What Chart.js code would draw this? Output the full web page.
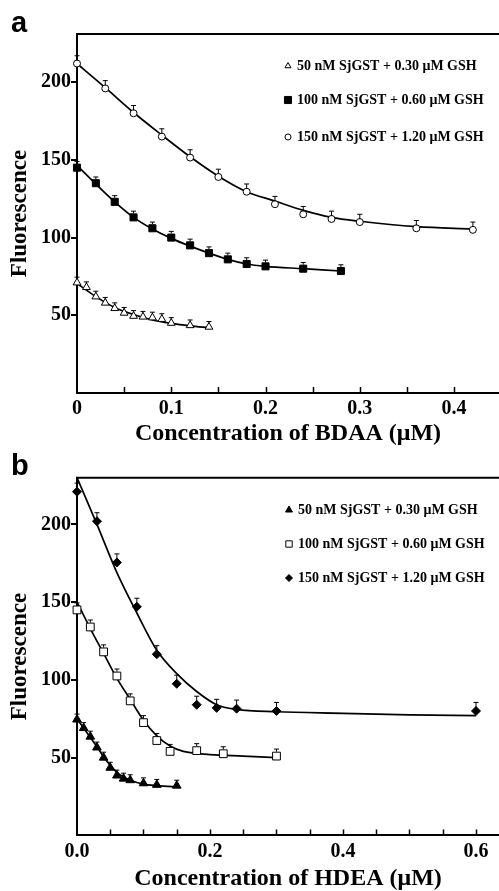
<!DOCTYPE html>
<html><head><meta charset="utf-8">
<script src="https://cdn.jsdelivr.net/npm/chart.js@4.4.0/dist/chart.umd.min.js"></script>
<style>
html,body{margin:0;padding:0;background:#fff;}
body{width:499px;height:891px;position:relative;overflow:hidden;}
canvas{position:absolute;left:0;}
#ca{top:0;} #cb{top:445px;}
</style></head><body>
<canvas id="ca" width="499" height="446"></canvas>
<canvas id="cb" width="499" height="446"></canvas>
<script>
// ---------- data ----------
const seriesLabels = ['50 nM SjGST + 0.30 \u03bcM GSH', '100 nM SjGST + 0.60 \u03bcM GSH', '150 nM SjGST + 1.20 \u03bcM GSH'];
const yTicks = [50, 100, 150, 200];

// Panel a: BDAA
const aTriX = [0, 0.01, 0.02, 0.03, 0.04, 0.05, 0.06, 0.07, 0.08, 0.09, 0.10, 0.12, 0.14];
const aTriY = [71, 68, 62, 58, 54.5, 51.5, 49.5, 49, 48.5, 47.5, 45, 43.5, 42.5];
const aTriErr = [3.5, 3.5, 3.5, 3.5, 3.5, 3.5, 3.5, 3.5, 3.5, 3.5, 3.5, 3.5, 3.5];
const aSqX = [0, 0.02, 0.04, 0.06, 0.08, 0.10, 0.12, 0.14, 0.16, 0.18, 0.20, 0.24, 0.28];
const aSqY = [145, 135, 123, 113, 106, 100, 95, 90, 86, 83, 81.5, 80, 78.5];
const aSqErr = [4, 4, 4, 4, 4, 4, 4, 4, 4, 4, 4, 4, 4];
const aCirX = [0, 0.03, 0.06, 0.09, 0.12, 0.15, 0.18, 0.21, 0.24, 0.27, 0.30, 0.36, 0.42];
const aCirY = [212, 196, 180, 165, 151.5, 139, 129.5, 121.5, 115, 112, 110, 106, 105];
const aCirErr = [5, 5, 5, 5, 5, 5, 5, 5, 5, 5, 5, 5, 5];
const aTriFitX = [0, 0.02, 0.04, 0.06, 0.08, 0.10, 0.12, 0.14];
const aTriFitY = [70.5, 62, 55, 50.5, 47, 44.8, 43.2, 42];
const aSqFitX = [0, 0.02, 0.04, 0.06, 0.08, 0.10, 0.12, 0.14, 0.16, 0.18, 0.20, 0.24, 0.28];
const aSqFitY = [146.5, 134.5, 123, 113, 105.5, 99.5, 94.5, 90, 86, 83, 81.5, 80, 78.5];
const aCirFitX = [0, 0.03, 0.06, 0.09, 0.12, 0.15, 0.18, 0.21, 0.24, 0.27, 0.30, 0.36, 0.42];
const aCirFitY = [212, 196.5, 180.5, 166, 152, 139.5, 129.5, 123.5, 117.5, 113, 110.5, 107, 105.5];
const aXTicks = [0, 0.1, 0.2, 0.3, 0.4];
const aXLabels = ['0', '0.1', '0.2', '0.3', '0.4'];
const aMinorTicks = [0.05, 0.1, 0.15, 0.2, 0.25, 0.3, 0.35, 0.4];

// Panel b: HDEA
const bTriX = [0, 0.01, 0.02, 0.03, 0.04, 0.05, 0.06, 0.07, 0.08, 0.10, 0.12, 0.15];
const bTriY = [74.5, 69, 63.5, 56.5, 50, 43.5, 38.5, 36.5, 35.5, 33.5, 32.5, 32];
const bTriErr = [3.5, 3.5, 3.5, 3.5, 3.5, 3.5, 3.5, 3.5, 3.5, 3.5, 3.5, 3.5];
const bSqX = [0, 0.02, 0.04, 0.06, 0.08, 0.10, 0.12, 0.14, 0.18, 0.22, 0.30];
const bSqY = [145, 134, 118, 102.5, 86.5, 72.5, 61, 54, 54.5, 52.5, 51];
const bSqErr = [4.5, 4.5, 4.5, 4.5, 4.5, 4.5, 4.5, 4.5, 4.5, 4.5, 4.5];
const bDiaX = [0, 0.03, 0.06, 0.09, 0.12, 0.15, 0.18, 0.21, 0.24, 0.30, 0.60];
const bDiaY = [221, 202, 175.5, 147, 116.5, 97.5, 84, 82, 81.5, 80, 80];
const bDiaErr = [5.5, 5.5, 5.5, 5.5, 5.5, 5.5, 5.5, 5.5, 5.5, 5.5, 5.5];
const bTriFitX = [0, 0.01, 0.02, 0.03, 0.04, 0.05, 0.06, 0.07, 0.08, 0.10, 0.12, 0.155];
const bTriFitY = [75, 69, 63, 57, 50.5, 45, 40.5, 37.5, 35.5, 33, 32, 31];
const bSqFitX = [0, 0.02, 0.04, 0.06, 0.08, 0.10, 0.12, 0.14, 0.16, 0.20, 0.25, 0.30];
const bSqFitY = [150, 133, 117, 101, 87.5, 74, 64, 57.5, 54, 52, 51, 50];
const bDiaFitX = [0, 0.03, 0.06, 0.09, 0.12, 0.15, 0.18, 0.21, 0.24, 0.30, 0.40, 0.50, 0.60];
const bDiaFitY = [230, 200, 169, 143, 119, 104, 92.5, 84, 81, 79.5, 78.5, 77.5, 77];
const bXTicks = [0, 0.2, 0.4, 0.6];
const bXLabels = ['0.0', '0.2', '0.4', '0.6'];
const bMinorTicks = [0.05, 0.1, 0.15, 0.2, 0.25, 0.3, 0.35, 0.4, 0.45, 0.5, 0.55, 0.6];

// ---------- helpers ----------
const SERIF = '"Liberation Serif","Times New Roman",serif';
const SANS = '"Liberation Sans",Arial,sans-serif';
const pts = (xs, ys) => xs.map((x, i) => ({x: x, y: ys[i]}));

function markers(label, xs, ys, err, style, r, fill) {
  return {type: 'line', label: label, data: pts(xs, ys), err: err, showLine: false,
    pointStyle: style, pointRadius: r, pointHoverRadius: r, pointBackgroundColor: fill,
    pointBorderColor: '#000', pointBorderWidth: 1, backgroundColor: fill, borderColor: '#000',
    clip: false, order: 0};
}
function fitLine(xs, ys) {
  return {type: 'line', label: '', data: pts(xs, ys), showLine: true, borderColor: '#000',
    borderWidth: 1.7, pointRadius: 0, pointHoverRadius: 0, cubicInterpolationMode: 'monotone',
    fill: false, order: 1};
}

// make the plot area run to the right edge of the canvas, as in the original
const fullWidthPlugin = {
  id: 'fullWidth',
  afterLayout(chart) {
    const a = chart.chartArea, x = chart.scales.x;
    a.right = chart.width; a.width = a.right - a.left;
    x.right = chart.width; x.width = x.right - x.left;
    x.configure();
  }
};

const errPlugin = {
  id: 'errbars',
  afterDatasetsDraw(chart) {
    const ctx = chart.ctx, ys = chart.scales.y;
    chart.data.datasets.forEach((ds, i) => {
      if (!ds.err) return;
      const meta = chart.getDatasetMeta(i);
      ctx.save(); ctx.strokeStyle = '#000'; ctx.lineWidth = 1;
      meta.data.forEach((pt, j) => {
        const x = pt.x, y0 = pt.y - ds.pointRadius * 0.8;
        const y1 = ys.getPixelForValue(ds.data[j].y + ds.err[j]);
        ctx.beginPath();
        ctx.moveTo(x, y0); ctx.lineTo(x, y1);
        ctx.moveTo(x - 2.5, y1); ctx.lineTo(x + 2.5, y1);
        ctx.stroke();
      });
      ctx.restore();
    });
  }
};

const framePlugin = {
  id: 'frame',
  afterDraw(chart, args, opts) {
    const ctx = chart.ctx, a = chart.chartArea, x = chart.scales.x;
    ctx.save(); ctx.strokeStyle = '#000';
    ctx.lineWidth = 2;
    ctx.beginPath(); ctx.moveTo(a.left - 1, a.top); ctx.lineTo(chart.width, a.top); ctx.stroke();
    ctx.lineWidth = 1.5;
    ctx.beginPath();
    opts.minor.forEach(v => {
      const px = Math.round(x.getPixelForValue(v)) + 0.5;
      ctx.moveTo(px, a.bottom); ctx.lineTo(px, a.bottom - 6);
    });
    ctx.stroke();
    // panel letter
    ctx.fillStyle = '#000';
    ctx.font = 'bold 29px ' + SANS;
    ctx.textBaseline = 'alphabetic'; ctx.textAlign = 'left';
    ctx.fillText(opts.letter, opts.lx, opts.ly);
    // legend
    ctx.font = 'bold 14px ' + SERIF;
    ctx.textBaseline = 'middle';
    opts.items.forEach((di, k) => {
      const ds = chart.data.datasets[di];
      const y = opts.rows[k];
      ctx.fillStyle = ds.pointBackgroundColor; ctx.strokeStyle = '#000'; ctx.lineWidth = 1;
      Chart.helpers.drawPoint(ctx, {pointStyle: ds.pointStyle, radius: opts.mr[k], rotation: 0, borderWidth: 1}, opts.mx, y);
      ctx.fillStyle = '#000';
      ctx.fillText(ds.label, opts.tx, y);
    });
    ctx.restore();
  }
};

function makeChart(id, cfg) {
  return new Chart(document.getElementById(id), {
    type: 'line',
    data: {datasets: cfg.datasets},
    plugins: [fullWidthPlugin, errPlugin, framePlugin],
    options: {
      responsive: false, animation: false, devicePixelRatio: 1,
      layout: {padding: {top: cfg.top, left: 0, right: 0, bottom: 0}},
      plugins: {legend: {display: false}, tooltip: {enabled: false},
        frame: cfg.frame},
      scales: {
        x: {
          type: 'linear', min: 0, max: cfg.xMax,
          afterBuildTicks: s => { s.ticks = cfg.xTicks.map(v => ({value: v})); },
          afterFit: s => { s.height = cfg.xHeight; s.paddingLeft = 0; s.paddingRight = 0; },
          grid: {display: false, drawTicks: false},
          border: {display: true, color: '#000', width: 2},
          ticks: {color: '#000', padding: 4, autoSkip: false, maxRotation: 0,
            font: {family: SERIF, size: 20, weight: 'bold'},
            callback: (v, i) => cfg.xLabels[i]},
          title: {display: true, text: cfg.xTitle, color: '#000', padding: 0,
            font: {family: SERIF, size: 24, weight: 'bold', lineHeight: 1}}
        },
        y: {
          type: 'linear', min: 0, max: cfg.yMax,
          afterBuildTicks: s => { s.ticks = yTicks.map(v => ({value: v})); },
          afterFit: s => { s.width = 77; s.paddingTop = 0; s.paddingBottom = 0; },
          grid: {display: true, drawOnChartArea: false, drawTicks: true, tickLength: 6, color: '#000', lineWidth: 2},
          border: {display: true, color: '#000', width: 2},
          ticks: {color: '#000', padding: 0, font: {family: SERIF, size: 20, weight: 'bold'}},
          title: {display: true, text: 'Fluorescence', color: '#000', padding: {top: 8.5, bottom: 0},
            font: {family: SERIF, size: 23, weight: 'bold', lineHeight: 1}}
        }
      }
    }
  });
}

makeChart('ca', {
  top: 34, xMax: 0.4477, yMax: 231, xHeight: 446 - 393,
  xTicks: aXTicks, xLabels: aXLabels, xTitle: 'Concentration of BDAA (\u03bcM)',
  datasets: [
    markers(seriesLabels[0], aTriX, aTriY, aTriErr, 'triangle', 4.5, '#fff'),
    markers(seriesLabels[1], aSqX, aSqY, aSqErr, 'rect', 5, '#000'),
    markers(seriesLabels[2], aCirX, aCirY, aCirErr, 'circle', 3.5, '#fff'),
    fitLine(aTriFitX, aTriFitY), fitLine(aSqFitX, aSqFitY), fitLine(aCirFitX, aCirFitY)
  ],
  frame: {minor: aMinorTicks, letter: 'a', lx: 11, ly: 32, items: [0, 1, 2],
    rows: [66, 100, 137], mr: [3.5, 5, 3], mx: 288, tx: 297}
});

makeChart('cb', {
  top: 32.7, xMax: 0.6346, yMax: 230, xHeight: 446 - 390.4,
  xTicks: bXTicks, xLabels: bXLabels, xTitle: 'Concentration of HDEA (\u03bcM)',
  datasets: [
    markers(seriesLabels[0], bTriX, bTriY, bTriErr, 'triangle', 5, '#000'),
    markers(seriesLabels[1], bSqX, bSqY, bSqErr, 'rect', 5.5, '#fff'),
    markers(seriesLabels[2], bDiaX, bDiaY, bDiaErr, 'rectRot', 4.5, '#000'),
    fitLine(bTriFitX, bTriFitY), fitLine(bSqFitX, bSqFitY), fitLine(bDiaFitX, bDiaFitY)
  ],
  frame: {minor: bMinorTicks, letter: 'b', lx: 11, ly: 30, items: [0, 1, 2],
    rows: [65, 99, 133], mr: [4, 4.5, 3.5], mx: 289, tx: 298}
});
</script>
</body></html>
